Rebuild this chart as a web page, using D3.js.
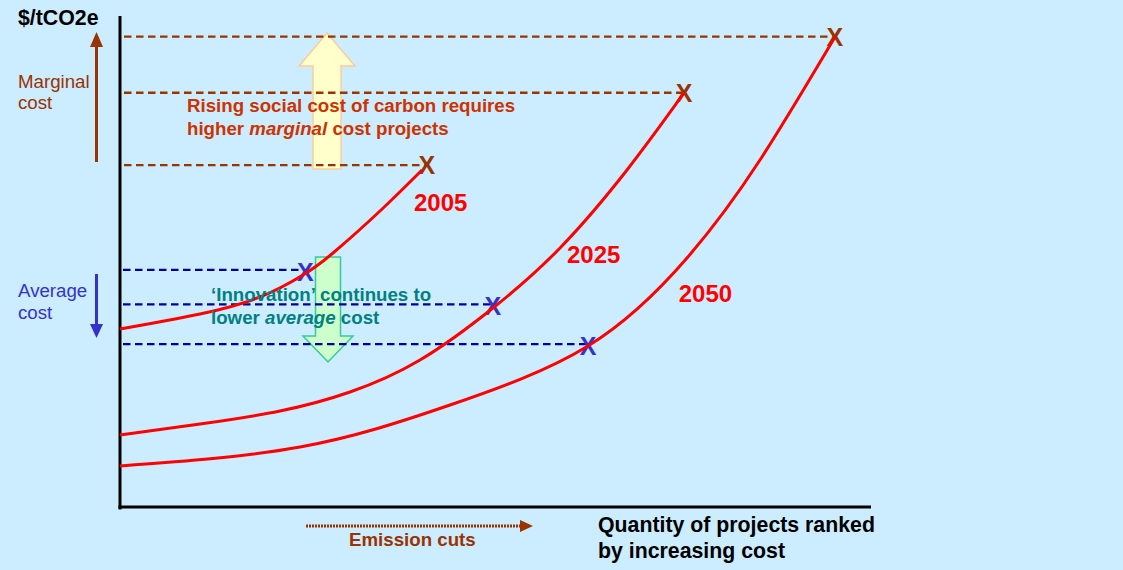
<!DOCTYPE html>
<html><head><meta charset="utf-8">
<script src="https://cdn.jsdelivr.net/npm/d3@7/dist/d3.min.js"></script>
<style>
html,body{margin:0;padding:0;background:#CCECFF;}
svg{display:block;font-family:"Liberation Sans",Arial,sans-serif;}
</style></head>
<body>
<svg id="chart" width="1123" height="570"></svg>
<script>
// ---- data (quantity units 0..100, cost units 0..100) ----
const years = ["2005", "2025", "2050"];
const curve2005X = [0, 10.67, 18.67, 24.4, 28.4, 34.67, 40.27];
const curve2005Y = [36.38, 39.43, 42.89, 47.36, 51.83, 60.37, 68.7];
const curve2025X = [0, 10.67, 21.33, 30.67, 40, 49.73, 58.67, 67.6, 75.2];
const curve2025Y = [14.84, 17.07, 19.72, 23.58, 30.08, 40.65, 52.85, 68.7, 84.35];
const curve2050X = [0, 24, 44, 62.4, 75.6, 85.33, 95.33];
const curve2050Y = [8.54, 12.4, 20.93, 32.93, 50.81, 70.73, 95.73];
const marginalX = [40.9, 75.2, 95.3];
const marginalY = [69.7, 84.4, 95.8];
const averageX = [24.7, 49.7, 62.4];
const averageY = [48.0, 41.0, 32.9];
const yearLabelX = [39.2, 59.6, 74.5];
const yearLabelY = [60.4, 49.8, 41.9];

const svg = d3.select("#chart");
const x = d3.scaleLinear().domain([0, 100]).range([120, 870]);
const y = d3.scaleLinear().domain([0, 100]).range([508, 16]);

const BROWN = "#993300", NAVY = "#000099", BLUE = "#3333CC", RED = "#FF0000";

svg.append("rect").attr("width", 1123).attr("height", 570).attr("fill", "#CCECFF");

// ---- big annotation arrows ----
function vArrow(cx, yTop, yBot, shaftHalf, headHalf, headLen, up, fill, stroke) {
  let p;
  if (up) {
    p = [[cx, yTop], [cx + headHalf, yTop + headLen], [cx + shaftHalf, yTop + headLen], [cx + shaftHalf, yBot],
         [cx - shaftHalf, yBot], [cx - shaftHalf, yTop + headLen], [cx - headHalf, yTop + headLen]];
  } else {
    p = [[cx - shaftHalf, yTop], [cx + shaftHalf, yTop], [cx + shaftHalf, yBot - headLen], [cx + headHalf, yBot - headLen],
         [cx, yBot], [cx - headHalf, yBot - headLen], [cx - shaftHalf, yBot - headLen]];
  }
  svg.append("path").attr("d", "M" + p.map(d => d.join(",")).join("L") + "Z")
    .attr("fill", fill).attr("stroke", stroke).attr("stroke-width", 1.5);
}
vArrow(327, 33, 169, 14, 28, 33, true, "#FFFFCC", "#FFCC99");
vArrow(328, 257, 362, 12.5, 25, 26, false, "#CCFFCC", "#33CC99");

// ---- axes ----
svg.append("line").attr("x1", x(0)).attr("x2", x(0)).attr("y1", 16).attr("y2", y(0) + 1.5)
  .attr("stroke", "#000").attr("stroke-width", 3);
svg.append("line").attr("x1", x(0) - 1.5).attr("x2", 871).attr("y1", y(0) - 1).attr("y2", y(0) - 1)
  .attr("stroke", "#000").attr("stroke-width", 3);

// ---- dashed guide lines ----
marginalX.forEach((mx, i) => {
  svg.append("line").attr("x1", x(0) + 4).attr("x2", x(mx) - 2).attr("y1", y(marginalY[i])).attr("y2", y(marginalY[i]))
    .attr("stroke", BROWN).attr("stroke-width", 2.3).attr("stroke-dasharray", "7.5,4.5");
});
averageX.forEach((ax, i) => {
  svg.append("line").attr("x1", x(0) + 3).attr("x2", x(ax) - 2).attr("y1", y(averageY[i]) - 2).attr("y2", y(averageY[i]) - 2)
    .attr("stroke", NAVY).attr("stroke-width", 2.3).attr("stroke-dasharray", "7.5,4.5");
});

// ---- X markers ----
function marker(mx, my, col) {
  svg.append("text").attr("x", x(mx)).attr("y", y(my) + 9).attr("text-anchor", "middle")
    .attr("font-size", 25).attr("font-weight", "bold").attr("fill", col).text("X");
}
marginalX.forEach((mx, i) => marker(mx, marginalY[i], BROWN));
averageX.forEach((ax, i) => marker(ax, averageY[i], BLUE));

// ---- curves ----
const line = d3.line().x(d => x(d[0])).y(d => y(d[1])).curve(d3.curveNatural);
[[curve2005X, curve2005Y], [curve2025X, curve2025Y], [curve2050X, curve2050Y]].forEach(([cx, cy]) => {
  svg.append("path").datum(cx.map((v, i) => [v, cy[i]])).attr("d", line)
    .attr("fill", "none").attr("stroke", RED).attr("stroke-width", 3);
});

// ---- year labels ----
years.forEach((yr, i) => {
  svg.append("text").attr("x", x(yearLabelX[i])).attr("y", y(yearLabelY[i]))
    .attr("font-size", 24).attr("font-weight", "bold").attr("fill", RED).text(yr);
});

// ---- left indicator arrows ----
svg.append("line").attr("x1", 96.5).attr("x2", 96.5).attr("y1", 162).attr("y2", 46)
  .attr("stroke", BROWN).attr("stroke-width", 3);
svg.append("path").attr("d", "M96.5,32L103,47L90,47Z").attr("fill", BROWN);
svg.append("line").attr("x1", 96.5).attr("x2", 96.5).attr("y1", 274).attr("y2", 326)
  .attr("stroke", BLUE).attr("stroke-width", 3);
svg.append("path").attr("d", "M96.5,338L103,324L90,324Z").attr("fill", BLUE);

// ---- texts ----
function txt(xx, yy, s, size, weight, col) {
  return svg.append("text").attr("x", xx).attr("y", yy).attr("font-size", size)
    .attr("font-weight", weight).attr("fill", col).text(s);
}
txt(18, 25, "$/tCO2e", 21.3, "bold", "#000");
txt(18, 88, "Marginal", 18.7, "normal", BROWN);
txt(18, 109, "cost", 18.7, "normal", BROWN);
txt(18, 297, "Average", 18.7, "normal", BLUE);
txt(18, 319, "cost", 18.7, "normal", BLUE);

txt(187, 112, "Rising social cost of carbon requires", 18.7, "bold", "#CC3300");
const t2 = txt(187, 135, "", 18.7, "bold", "#CC3300");
t2.append("tspan").text("higher ");
t2.append("tspan").attr("font-style", "italic").text("marginal");
t2.append("tspan").text(" cost projects");

txt(211, 301, "\u2018Innovation\u2019 continues to", 18.7, "bold", "#008080");
const t4 = txt(211, 324, "", 18.7, "bold", "#008080");
t4.append("tspan").text("lower ");
t4.append("tspan").attr("font-style", "italic").text("average");
t4.append("tspan").text(" cost");

// emission cuts arrow
svg.append("line").attr("x1", 306).attr("x2", 521).attr("y1", 526).attr("y2", 526)
  .attr("stroke", BROWN).attr("stroke-width", 3).attr("stroke-dasharray", "2,1");
svg.append("path").attr("d", "M533,526L520,520L520,532Z").attr("fill", BROWN);
txt(349, 546, "Emission cuts", 18.7, "bold", BROWN);

txt(598, 532, "Quantity of projects ranked", 21.3, "bold", "#000");
txt(598, 558, "by increasing cost", 21.3, "bold", "#000");
</script>
</body></html>
